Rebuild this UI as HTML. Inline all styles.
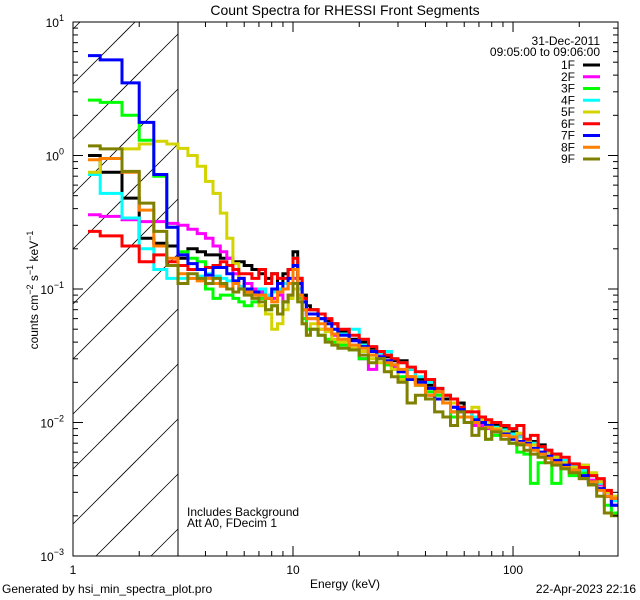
<!DOCTYPE html>
<html><head><meta charset="utf-8"><style>
html,body{margin:0;padding:0;background:#fff;width:640px;height:600px;overflow:hidden;}
svg{display:block;}
svg text{font-family:"Liberation Sans",sans-serif;font-size:12px;fill:#000;}
</style></head><body>
<svg id="chart" width="640" height="600" xmlns="http://www.w3.org/2000/svg">
<rect width="640" height="600" fill="#fff"/>
<defs><clipPath id="pclip"><rect x="73" y="22" width="545" height="534"/></clipPath></defs>
<g id="hatch"></g>
<line x1="178" y1="22" x2="178" y2="556" stroke="#000" stroke-width="1"/>
<g id="series" clip-path="url(#pclip)"></g>
<rect x="73" y="22" width="545" height="534" fill="none" stroke="#000" stroke-width="1"/>
<g id="axes"></g>
<text x="345" y="15" text-anchor="middle" style="font-size:14px">Count Spectra for RHESSI Front Segments</text>
<text x="345" y="588" text-anchor="middle">Energy (keV)</text>
<text transform="translate(38,290) rotate(-90)" text-anchor="middle">counts cm<tspan dy="-5" style="font-size:9px">−2</tspan><tspan dy="5"> s</tspan><tspan dy="-5" style="font-size:9px">−1</tspan><tspan dy="5"> keV</tspan><tspan dy="-5" style="font-size:9px">−1</tspan></text>
<text x="2" y="593">Generated by hsi_min_spectra_plot.pro</text>
<text x="636" y="593" text-anchor="end">22-Apr-2023 22:16</text>
<text x="187" y="516">Includes Background</text>
<text x="187" y="527">Att A0, FDecim 1</text>
<text x="600" y="45" text-anchor="end">31-Dec-2011</text>
<text x="600" y="56" text-anchor="end">09:05:00 to 09:06:00</text>
<g id="legend"></g>
</svg>
<script>
const edges=[1.17,1.33,1.67,2,2.33,2.67,3,3.33,3.67,4,4.33,4.67,5,5.33,5.67,6,6.5,7,7.5,8,8.5,9,9.5,10,10.5,11,11.5,12,13,14,15,16,18,20,22,24,26,28,30,33,36,40,44,48,52,56,60,65,70,75,80,88,96,104,112,120,130,140,150,165,180,200,220,240,260,280,300];
const segNames=["1F","2F","3F","4F","5F","6F","7F","8F","9F"];
const segColors=["#000000","#ff00ff","#00ff00","#00ffff","#d4d400","#ff0000","#0000ff","#ff8000","#808000"];
const s1F=[1.0,0.75,0.48,0.24,0.22,0.21,0.17,0.2,0.19,0.18,0.18,0.17,0.17,0.16,0.16,0.15,0.14,0.13,0.12,0.13,0.11,0.13,0.14,0.19,0.12,0.09,0.075,0.07,0.06,0.058,0.055,0.048,0.042,0.04,0.036,0.033,0.031,0.029,0.029,0.025,0.021,0.019,0.017,0.015,0.012,0.014,0.012,0.011,0.011,0.0095,0.0095,0.009,0.0085,0.0082,0.007,0.0072,0.0068,0.006,0.0058,0.005,0.0047,0.0045,0.004,0.0036,0.0028,0.0026];
const s2F=[0.36,0.35,0.33,0.32,0.32,0.31,0.30,0.28,0.26,0.24,0.21,0.19,0.17,0.13,0.12,0.11,0.10,0.095,0.09,0.085,0.09,0.08,0.09,0.12,0.09,0.07,0.06,0.06,0.05,0.05,0.045,0.04,0.038,0.03,0.025,0.032,0.029,0.026,0.024,0.022,0.02,0.016,0.015,0.014,0.013,0.012,0.011,0.0095,0.0095,0.009,0.0085,0.008,0.0075,0.008,0.007,0.0068,0.006,0.0062,0.0055,0.005,0.0046,0.0048,0.0037,0.0034,0.003,0.0024];
const s3F=[2.6,2.5,2.0,1.3,0.7,0.29,0.19,0.17,0.16,0.1,0.085,0.09,0.09,0.085,0.08,0.075,0.08,0.085,0.07,0.075,0.065,0.08,0.085,0.11,0.085,0.06,0.05,0.05,0.045,0.042,0.04,0.038,0.035,0.03,0.032,0.03,0.027,0.025,0.022,0.022,0.019,0.017,0.016,0.014,0.011,0.013,0.01,0.01,0.009,0.0075,0.008,0.0085,0.007,0.006,0.0058,0.0035,0.005,0.006,0.0035,0.0045,0.004,0.0042,0.0035,0.0032,0.0024,0.0021];
const s4F=[0.72,0.52,0.34,0.2,0.14,0.12,0.12,0.12,0.125,0.13,0.125,0.12,0.115,0.11,0.105,0.1,0.095,0.1,0.09,0.095,0.1,0.11,0.12,0.17,0.1,0.08,0.065,0.065,0.06,0.055,0.05,0.046,0.05,0.038,0.034,0.033,0.034,0.03,0.028,0.025,0.022,0.02,0.018,0.016,0.014,0.013,0.012,0.011,0.01,0.0095,0.0092,0.0088,0.0082,0.0078,0.0072,0.007,0.0065,0.006,0.0056,0.0052,0.0048,0.0044,0.004,0.0035,0.003,0.0026];
const s5F=[0.75,0.95,1.12,1.22,1.28,1.22,1.13,1.0,0.83,0.64,0.52,0.37,0.24,0.155,0.12,0.1,0.09,0.075,0.065,0.05,0.055,0.07,0.085,0.1,0.09,0.055,0.045,0.055,0.05,0.048,0.042,0.04,0.036,0.034,0.03,0.028,0.029,0.025,0.021,0.022,0.02,0.018,0.017,0.016,0.014,0.013,0.012,0.013,0.0105,0.01,0.009,0.0085,0.0075,0.0083,0.0072,0.0068,0.006,0.006,0.0055,0.005,0.0046,0.0048,0.0042,0.0036,0.003,0.0028];
const s6F=[0.27,0.25,0.21,0.16,0.18,0.16,0.15,0.14,0.14,0.145,0.15,0.16,0.15,0.14,0.13,0.13,0.12,0.14,0.11,0.13,0.12,0.12,0.14,0.17,0.12,0.085,0.07,0.07,0.065,0.06,0.055,0.05,0.045,0.042,0.037,0.034,0.032,0.03,0.028,0.026,0.024,0.021,0.018,0.016,0.015,0.013,0.012,0.012,0.011,0.0105,0.01,0.0095,0.009,0.0095,0.0075,0.008,0.0066,0.0062,0.0058,0.0055,0.0049,0.0046,0.004,0.0038,0.0031,0.0027];
const s7F=[5.6,5.2,3.5,1.77,0.72,0.29,0.18,0.155,0.14,0.127,0.145,0.145,0.13,0.115,0.12,0.1,0.095,0.09,0.085,0.1,0.11,0.1,0.12,0.15,0.11,0.08,0.065,0.065,0.06,0.055,0.05,0.045,0.041,0.037,0.034,0.031,0.029,0.027,0.024,0.021,0.02,0.018,0.015,0.014,0.013,0.0125,0.011,0.0105,0.01,0.0095,0.0085,0.0082,0.0075,0.0072,0.007,0.0064,0.006,0.0056,0.0052,0.0048,0.0044,0.004,0.0036,0.0032,0.0028,0.0024];
const s8F=[0.93,0.95,0.75,0.39,0.21,0.17,0.13,0.12,0.115,0.12,0.11,0.105,0.1,0.11,0.1,0.095,0.09,0.09,0.085,0.08,0.095,0.1,0.11,0.14,0.09,0.07,0.06,0.06,0.055,0.05,0.046,0.042,0.038,0.036,0.032,0.03,0.028,0.027,0.025,0.022,0.019,0.016,0.017,0.014,0.012,0.011,0.011,0.01,0.009,0.0092,0.0088,0.008,0.0078,0.007,0.0068,0.0062,0.0058,0.0054,0.005,0.0046,0.0044,0.0038,0.0036,0.0031,0.0028,0.0027];
const s9F=[1.18,1.12,0.76,0.44,0.27,0.15,0.11,0.13,0.12,0.11,0.12,0.11,0.1,0.095,0.1,0.09,0.085,0.08,0.07,0.075,0.065,0.08,0.09,0.11,0.08,0.055,0.045,0.05,0.045,0.04,0.038,0.036,0.035,0.032,0.028,0.03,0.024,0.022,0.02,0.014,0.016,0.015,0.012,0.011,0.0095,0.012,0.01,0.008,0.009,0.0075,0.0085,0.0075,0.007,0.0068,0.0062,0.0058,0.0055,0.005,0.0048,0.0045,0.0042,0.0038,0.0034,0.0028,0.0021,0.002];
const xTickMajor=[1,10,100];
const xTickLabels=["1","10","100"];
const yDecades=[-3,-2,-1,0,1];

const NS="http://www.w3.org/2000/svg";
const X0=73,X1=618,Y0=22,Y1=556;
const xMin=1,xMax=300,yMinL=-3,yMaxL=1;
function xs(v){return X0+(Math.log10(v)-Math.log10(xMin))/(Math.log10(xMax)-Math.log10(xMin))*(X1-X0);}
function ys(v){return Y1-(Math.log10(v)-yMinL)/(yMaxL-yMinL)*(Y1-Y0);}
function mk(tag,attrs,parent){const e=document.createElementNS(NS,tag);for(const k in attrs)e.setAttribute(k,attrs[k]);parent.appendChild(e);return e;}

const hatch=document.getElementById('hatch');
const HX1=178;
for(let c=102;c<=760;c+=55){
  const xa=Math.max(X0,c-Y1), xb=Math.min(HX1,c-Y0);
  if(xa>=xb) continue;
  const l=mk('line',{x1:xa,y1:c-xa,x2:xb,y2:c-xb,stroke:'#000','stroke-width':0.8},hatch);
  
  
}

const axes=document.getElementById('axes');
function tick(x1,y1,x2,y2){const t=mk('line',{x1,y1,x2,y2,stroke:'#000','stroke-width':1},axes);
  
  }
for(let d=0;d<3;d++){
  for(let m=1;m<=9;m++){
    const v=Math.pow(10,d)*m; if(v>xMax) break;
    const x=xs(v), len=(m===1)?10:5;
    tick(x,Y1,x,Y1-len); tick(x,Y0,x,Y0+len);
  }
}
xTickMajor.forEach((v,i)=>{
  const t=mk('text',{x:xs(v),y:574,'text-anchor':'middle'},axes);t.textContent=xTickLabels[i];
  
  
});
for(let i=0;i<yDecades.length;i++){
  const d=yDecades[i];
  for(let m=1;m<=9;m++){
    if(d===1&&m>1) break;
    const v=Math.pow(10,d)*m, y=ys(v), len=(m===1)?10:5;
    tick(X0,y,X0+len,y); tick(X1,y,X1-len,y);
  }
  const t=mk('text',{x:64,y:ys(Math.pow(10,d))+5,'text-anchor':'end'},axes);
  
  
  t.innerHTML='10<tspan dy="-6" style="font-size:9px">'+(d<0?'−'+(-d):d)+'</tspan>';
}

const allSeries=[s1F,s2F,s3F,s4F,s5F,s6F,s7F,s8F,s9F];
const sg=document.getElementById('series');
allSeries.forEach((vals,si)=>{
  let d='';
  for(let i=0;i<vals.length;i++){
    const xa=xs(edges[i]),xb=xs(edges[i+1]),y=ys(vals[i]);
    d+=(i===0?'M':'L')+xa.toFixed(1)+','+y.toFixed(1)+'L'+xb.toFixed(1)+','+y.toFixed(1);
  }
  const p=mk('path',{d,fill:'none',stroke:segColors[si],'stroke-width':3},sg);
  
  
});

const lg=document.getElementById('legend');
segNames.forEach((n,i)=>{
  const y=65+i*11.75;
  const t=mk('text',{x:575,y:y+4,'text-anchor':'end'},lg);t.textContent=n;
  
  
  const l=mk('line',{x1:583,y1:y,x2:600,y2:y,stroke:segColors[i],'stroke-width':3},lg);
  
  
});
</script>
</body></html>
